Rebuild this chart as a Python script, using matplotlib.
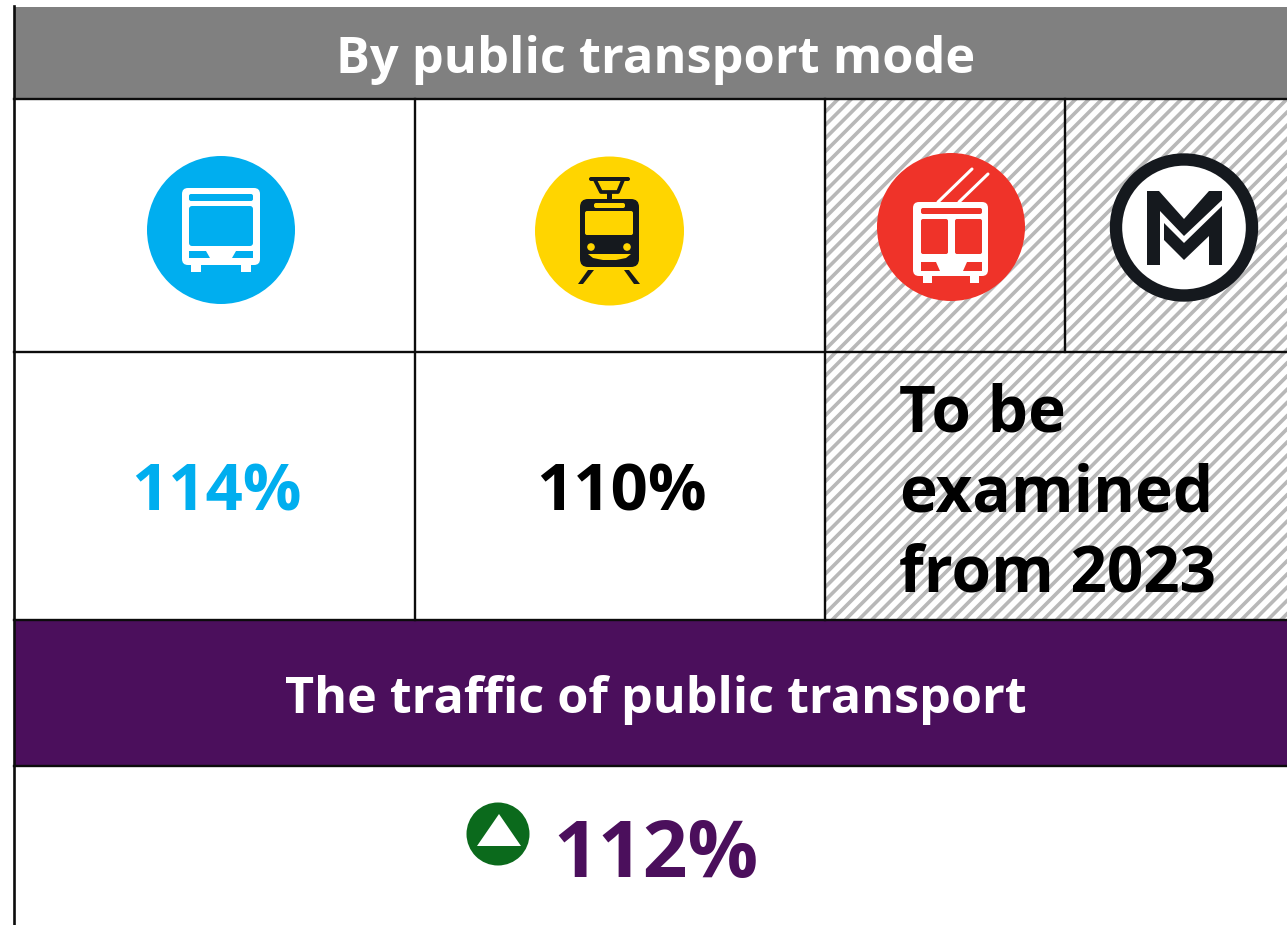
import numpy as np
import matplotlib
matplotlib.use('Agg')
import matplotlib.pyplot as plt
from matplotlib.patches import Circle, Rectangle, FancyBboxPatch, Polygon

plt.rcParams['font.family'] = ['Open Sans', 'DejaVu Sans']

W, H = 1287, 925

# text and values
header = 'By public transport mode'
footer_title = 'The traffic of public transport'
bus_value = 114
tram_value = 110
total_value = 112
pending_lines = ['To be', 'examined', 'from 2023']

GREY = '#808080'
PURPLE = '#4b0f5c'
BLUE = '#00aeef'
YELLOW = '#ffd500'
RED = '#ef3329'
DARK = '#15191e'
GREEN = '#0b6a1c'
HATCH = '#b8b8b8'
LINE = '#0c0c0c'

fig = plt.figure(figsize=(W/100, H/100), dpi=100, facecolor='white')
ax = fig.add_axes([0, 0, 1, 1])
ax.set_xlim(0, W)
ax.set_ylim(H, 0)
ax.axis('off')


def rbox(x0, y0, x1, y1, r, color, z=5):
    ax.add_patch(FancyBboxPatch((x0+r, y0+r), x1-x0-2*r, y1-y0-2*r,
                                boxstyle='round,pad=%g,rounding_size=%g' % (r, r),
                                fc=color, ec='none', zorder=z))


def poly(pts, color, z=5):
    ax.add_patch(Polygon(pts, closed=True, fc=color, ec='none', zorder=z))


def rect(x0, y0, x1, y1, color, z=5):
    ax.add_patch(Rectangle((x0, y0), x1-x0, y1-y0, fc=color, ec='none', zorder=z))


def disc(x, y, r, color, z=4):
    ax.add_patch(Circle((x, y), r, fc=color, ec='none', zorder=z))


def hatch_area(x0, y0, x1, y1):
    clip = Rectangle((x0, y0), x1-x0, y1-y0, transform=ax.transData)
    for c in np.arange(x0+y0, x1+y1+20, 13.2):
        l, = ax.plot([c-y0+20, c-y1-20], [y0-20, y1+20], color=HATCH, lw=2.6,
                     solid_capstyle='butt', zorder=1)
        l.set_clip_path(clip)


hatch_area(825, 99, 1287, 620)

# header bands
rect(14, 7, W, 99, GREY, 2)
rect(14, 620, W, 766, PURPLE, 2)

# grid lines
for y in [99, 351.5, 620, 765.5]:
    ax.plot([14, W], [y, y], color=LINE, lw=1.7, zorder=3)
ax.plot([13.7, 13.7], [6, H], color=LINE, lw=1.9, zorder=3)
ax.plot([415, 415], [99, 620], color=LINE, lw=1.7, zorder=3)
ax.plot([825, 825], [99, 620], color=LINE, lw=1.7, zorder=3)
ax.plot([1065, 1065], [99, 351.5], color=LINE, lw=1.7, zorder=3)

# bus
disc(221, 230, 74, BLUE)
rbox(182, 188, 260, 265, 6, 'white')
rbox(189, 194, 253, 201, 2, BLUE, 6)
rbox(189, 206, 253, 246, 3, BLUE, 6)
poly([(189, 251), (206, 251), (210, 258), (189, 258)], BLUE, 6)
poly([(253, 251), (236, 251), (232, 258), (253, 258)], BLUE, 6)
rect(191, 264, 201, 272, 'white')
rect(241, 264, 251, 272, 'white')

# tram
disc(609.5, 231, 74.5, YELLOW)
rbox(580, 199, 639, 267, 8, DARK)
rbox(594, 203, 625, 208, 2, YELLOW, 6)
rbox(585, 211, 633, 235, 2, YELLOW, 6)
disc(591, 247, 3.8, YELLOW, 6)
disc(627, 247, 3.8, YELLOW, 6)
poly([(588, 254), (631, 254), (626, 258), (616, 260), (603, 260), (593, 258)], YELLOW, 6)
rbox(589, 177, 630, 181, 2, DARK)
ax.plot([595, 601, 618, 623], [180, 192, 192, 180], color=DARK, lw=2.7, zorder=5)
rect(607, 192, 612, 200, DARK)
poly([(588, 270), (594, 270), (583, 284), (578, 284)], DARK)
poly([(624, 270), (629, 270), (640, 284), (634, 284)], DARK)

# trolleybus
disc(951, 227, 74, RED)
ax.plot([938, 972], [202, 169], color='white', lw=2.2, zorder=5, solid_capstyle='round')
ax.plot([959, 988], [202, 174], color='white', lw=2.2, zorder=5, solid_capstyle='round')
rbox(913, 202, 988, 276, 6, 'white')
rbox(921, 208, 982, 214, 2, RED, 6)
rbox(921, 219, 948, 254, 2, RED, 6)
rbox(955, 219, 982, 254, 2, RED, 6)
poly([(921, 262), (936, 262), (940, 271), (921, 271)], RED, 6)
poly([(982, 262), (967, 262), (963, 271), (982, 271)], RED, 6)
rect(923, 275, 932, 283, 'white')
rect(970, 275, 979, 283, 'white')

# metro
ax.add_patch(Circle((1184, 227.5), 68, fc='white', ec=DARK, lw=8.9, zorder=4))
poly([(1147, 191), (1159, 191), (1184, 219), (1209, 191), (1222, 191), (1222, 200),
      (1184, 236), (1160, 211), (1160, 265), (1147, 265)], DARK)
poly([(1164, 223), (1184, 243), (1222, 206), (1222, 265), (1209, 265), (1209, 236),
      (1184, 260), (1164, 240)], DARK)

# texts
ax.text(655.5, 60, header, color='white', fontsize=36.4, fontweight='bold',
        ha='center', va='center', zorder=7)
ax.text(216, 494, '%d%%' % bus_value, color=BLUE, fontsize=47, fontweight='bold',
        ha='center', va='center', zorder=7)
ax.text(621.5, 494, '%d%%' % tram_value, color='black', fontsize=47, fontweight='bold',
        ha='center', va='center', zorder=7)
for i, line in enumerate(pending_lines):
    ax.text(899, 415+80*i, line, color='black', fontsize=46, fontweight='bold',
            ha='left', va='center', zorder=7)
ax.text(655.5, 700, footer_title, color='white', fontsize=36.3, fontweight='bold',
        ha='center', va='center', zorder=7)
ax.text(656, 857, '%d%%' % total_value, color=PURPLE, fontsize=56.5, fontweight='bold',
        ha='center', va='center', zorder=7)

# up marker
disc(498, 834, 31.5, GREEN)
poly([(499, 814), (477, 846), (521, 846)], 'white')

fig.savefig('out.png', dpi=100, facecolor='white')
